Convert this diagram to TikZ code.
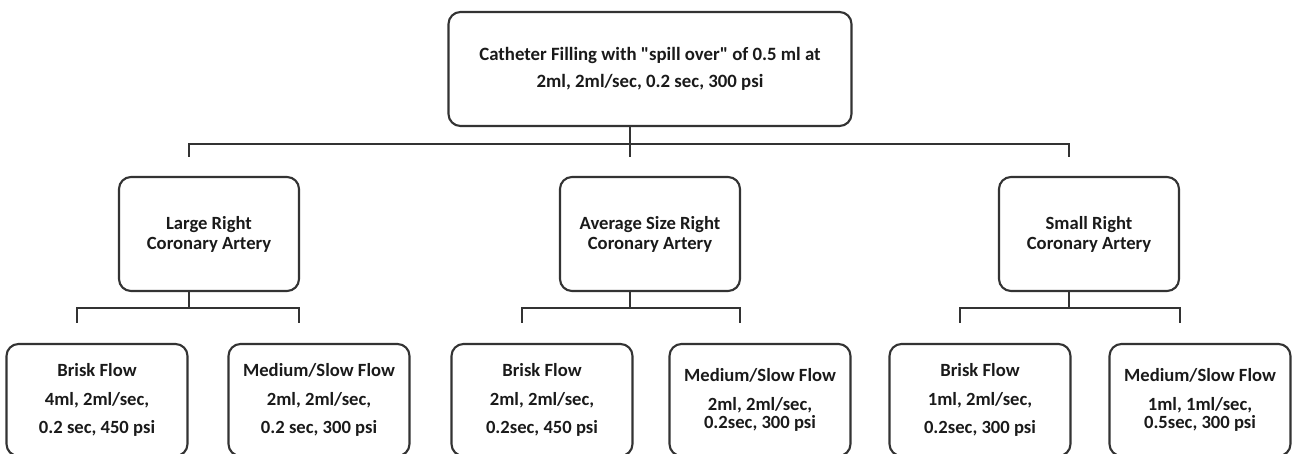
\documentclass[tikz,border=0pt]{standalone}
\usepackage{fontspec}
\setmainfont{Carlito}
\definecolor{linegray}{HTML}{333333}
\definecolor{textgray}{HTML}{1A1A1A}

\begin{document}
\begin{tikzpicture}[x=1cm,y=1cm,line width=1.2pt,
  box/.style={draw=linegray,rounded corners=.24cm,align=center,inner sep=0pt,text=textgray},
  flowbox/.style={box,minimum width=3.62cm,minimum height=2.24cm,font=\bfseries\fontsize{10.6}{16.4}\selectfont},
  tightbox/.style={box,minimum width=3.62cm,minimum height=2.24cm,font=\bfseries\fontsize{10.6}{10}\selectfont}]
 \useasboundingbox (0,0) rectangle (25.84,-9.06);
 \node[box,minimum width=8.06cm,minimum height=2.28cm,font=\bfseries\fontsize{10.7}{15.4}\selectfont] (cath) at (13.0,-1.38)
   {Catheter Filling with \textquotedbl spill over\textquotedbl{} of 0.5 ml at\\2ml, 2ml/sec, 0.2 sec, 300 psi};
 \foreach \name/\x/\txt in {large/4.18/{Large Right\\Coronary Artery},
                            avg/13.0/{Average Size Right\\Coronary Artery},
                            small/21.78/{Small Right\\Coronary Artery}}{%
   \node[box,minimum width=3.6cm,minimum height=2.28cm,font=\bfseries\fontsize{10.6}{11.4}\selectfont] (\name) at (\x,-4.68) {\txt};
   \coordinate (\name-in) at ([xshift=-.4cm,yshift=.38cm]\name.north);
 }
 \foreach \name/\x/\sty/\txt in {lbrisk/1.94/flowbox/{Brisk Flow\\4ml, 2ml/sec,\\0.2 sec, 450 psi},
                                 lslow/6.38/flowbox/{Medium/Slow Flow\\2ml, 2ml/sec,\\0.2 sec, 300 psi},
                                 abrisk/10.84/flowbox/{Brisk Flow\\2ml, 2ml/sec,\\0.2sec, 450 psi},
                                 aslow/15.2/tightbox/{Medium/Slow Flow\\[6.4pt]2ml, 2ml/sec,\\0.2sec, 300 psi},
                                 sbrisk/19.6/flowbox/{Brisk Flow\\1ml, 2ml/sec,\\0.2sec, 300 psi},
                                 sslow/24.0/tightbox/{Medium/Slow Flow\\[6.4pt]1ml, 1ml/sec,\\0.5sec, 300 psi}}{%
   \node[\sty] (\name) at (\x,-8.0) {\txt};
   \coordinate (\name-in) at ([xshift=-.4cm,yshift=.4cm]\name.north);
 }
 % top level
 \coordinate (cath-j) at ([xshift=-.4cm,yshift=-.34cm]cath.south);
 \draw[linegray] ([xshift=-.4cm]cath.south) -- (cath-j);
 \draw[linegray] (large-in) |- (cath-j) -| (small-in);
 \draw[linegray] (cath-j) -- (avg-in);
 % second level
 \foreach \up/\l/\r in {large/lbrisk/lslow,avg/abrisk/aslow,small/sbrisk/sslow}{%
   \coordinate (\up-j) at ([xshift=-.4cm,yshift=-.32cm]\up.south);
   \draw[linegray] ([xshift=-.4cm]\up.south) -- (\up-j);
   \draw[linegray] (\l-in) |- (\up-j) -| (\r-in);
 }
\end{tikzpicture}
\end{document}
